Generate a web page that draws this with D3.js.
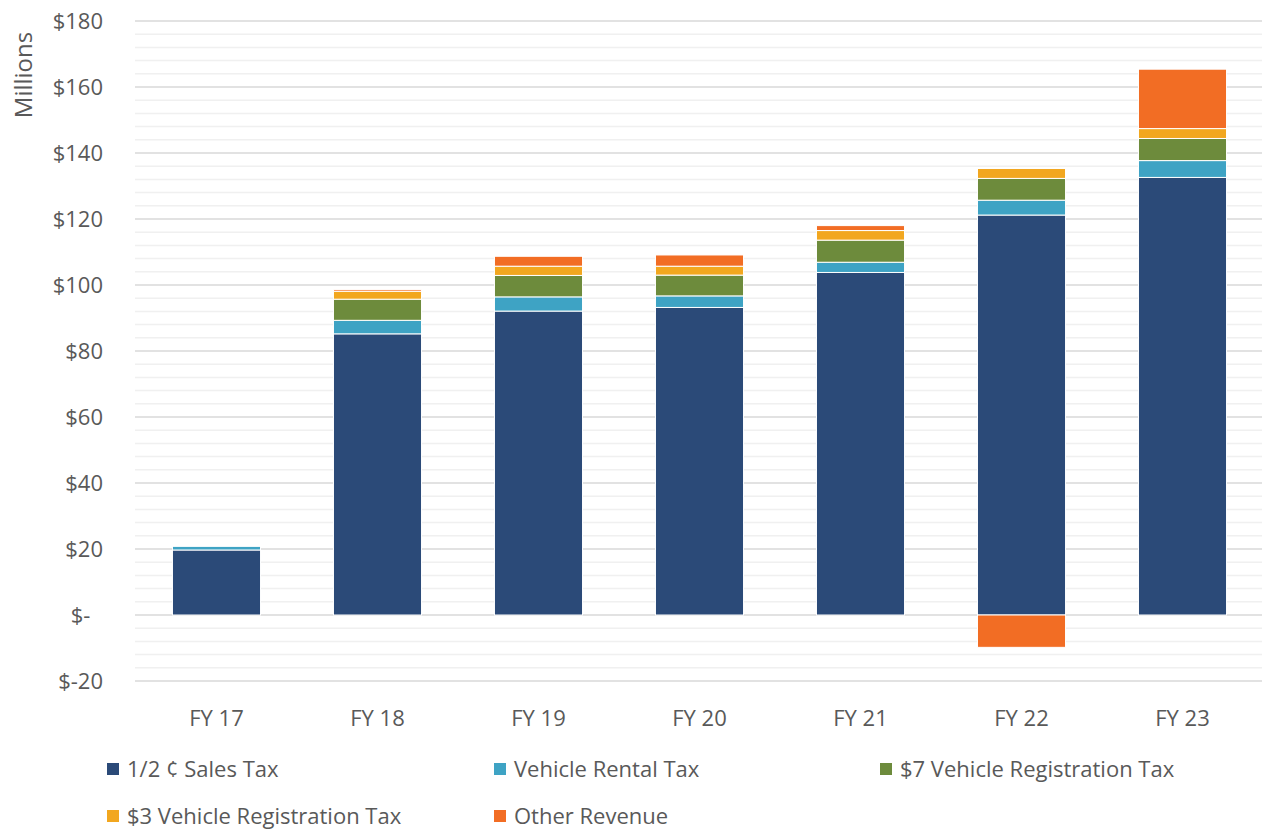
<!DOCTYPE html>
<html>
<head>
<meta charset="utf-8">
<script src="https://cdn.jsdelivr.net/npm/d3@7"></script>
<style>
  body { margin: 0; background: #fff; }
  text { font-family: "Open Sans", "Noto Sans", sans-serif; fill: #595959; }
</style>
</head>
<body>
<svg width="1262" height="832"></svg>
<script>
// data (millions)
var years = ["FY 17", "FY 18", "FY 19", "FY 20", "FY 21", "FY 22", "FY 23"];
var salesTax = [19.7, 85.2, 92.1, 93.2, 103.8, 121.2, 132.6];
var rentalTax = [1.1, 4.1, 4.3, 3.5, 3.1, 4.5, 5.1];
var reg7Tax = [0, 6.4, 6.5, 6.3, 6.7, 6.6, 6.7];
var reg3Tax = [0, 2.4, 2.8, 2.7, 2.9, 3.0, 3.0];
var otherRevenue = [0, 0.5, 3.0, 3.4, 1.5, -9.8, 18.0];
var seriesNames = ["1/2 \u00a2 Sales Tax", "Vehicle Rental Tax", "$7 Vehicle Registration Tax", "$3 Vehicle Registration Tax", "Other Revenue"];
var colors = ["#2b4a78", "#3ea3c4", "#6d8b3c", "#f2a71f", "#f26d24"];
var yTicks = [-20, 0, 20, 40, 60, 80, 100, 120, 140, 160, 180];

var allSeries = [salesTax, rentalTax, reg7Tax, reg3Tax, otherRevenue];

var svg = d3.select("svg");

var x = d3.scaleBand().domain(years).range([136, 1263]).paddingInner(0.453).paddingOuter(0.2265);
var y = d3.scaleLinear().domain([-20, 180]).range([681, 21]);

// minor gridlines every 4
svg.append("g")
   .selectAll("line")
   .data(d3.range(-20, 181, 4).filter(function(d) { return d % 20 != 0; }))
   .enter().append("line")
   .attr("x1", 135).attr("x2", 1262)
   .attr("y1", function(d) { return y(d); })
   .attr("y2", function(d) { return y(d); })
   .attr("stroke", "#f0f0f0")
   .attr("stroke-width", 1.5);

// major gridlines
svg.append("g")
   .selectAll("line")
   .data(yTicks)
   .enter().append("line")
   .attr("x1", 135).attr("x2", 1262)
   .attr("y1", function(d) { return y(d); })
   .attr("y2", function(d) { return y(d); })
   .attr("stroke", "#d9d9d9")
   .attr("stroke-width", 1.5);

// y labels
svg.append("g")
   .selectAll("text")
   .data(yTicks)
   .enter().append("text")
   .attr("x", 103)
   .attr("y", function(d) { return y(d); })
   .attr("dy", "0.35em")
   .attr("text-anchor", "end")
   .style("font-size", "22px")
   .style("white-space", "pre")
   .text(function(d) { return d == 0 ? "$-\u2007" : "$" + d; });

svg.append("text")
   .attr("transform", "translate(32,75) rotate(-90)")
   .attr("text-anchor", "middle")
   .style("font-size", "24px")
   .text("Millions");

// stack: positives up from zero, negatives down from zero
var segs = [];
years.forEach(function(yr, i) {
    var pos = 0, neg = 0;
    allSeries.forEach(function(s, k) {
        var v = s[i];
        if (v == 0) return;
        if (v > 0) { segs.push({ year: yr, k: k, y0: pos, y1: pos + v }); pos += v; }
        else { segs.push({ year: yr, k: k, y0: neg + v, y1: neg }); neg += v; }
    });
});

svg.append("g")
   .selectAll("rect")
   .data(segs)
   .enter().append("rect")
   .attr("x", function(d) { return x(d.year); })
   .attr("width", x.bandwidth())
   .attr("y", function(d) { return y(d.y1); })
   .attr("height", function(d) { return y(d.y0) - y(d.y1); })
   .attr("fill", function(d) { return colors[d.k]; })
   .attr("stroke", "#fff")
   .attr("stroke-width", 1);

// x labels
svg.append("g")
   .selectAll("text")
   .data(years)
   .enter().append("text")
   .attr("x", function(d) { return x(d) + x.bandwidth() / 2; })
   .attr("y", 726)
   .attr("text-anchor", "middle")
   .style("font-size", "22px")
   .text(function(d) { return d; });

// legend
var legX = [107, 494, 880];
var legend = svg.append("g")
   .selectAll("g")
   .data(seriesNames)
   .enter().append("g")
   .attr("transform", function(d, i) {
       return "translate(" + legX[i % 3] + "," + (769 + Math.floor(i / 3) * 47) + ")";
   });

legend.append("rect")
   .attr("x", 0).attr("y", -6)
   .attr("width", 12).attr("height", 12)
   .attr("fill", function(d, i) { return colors[i]; });

legend.append("text")
   .attr("x", 20)
   .attr("dy", "0.35em")
   .style("font-size", "22px")
   .text(function(d) { return d; });
</script>
</body>
</html>
